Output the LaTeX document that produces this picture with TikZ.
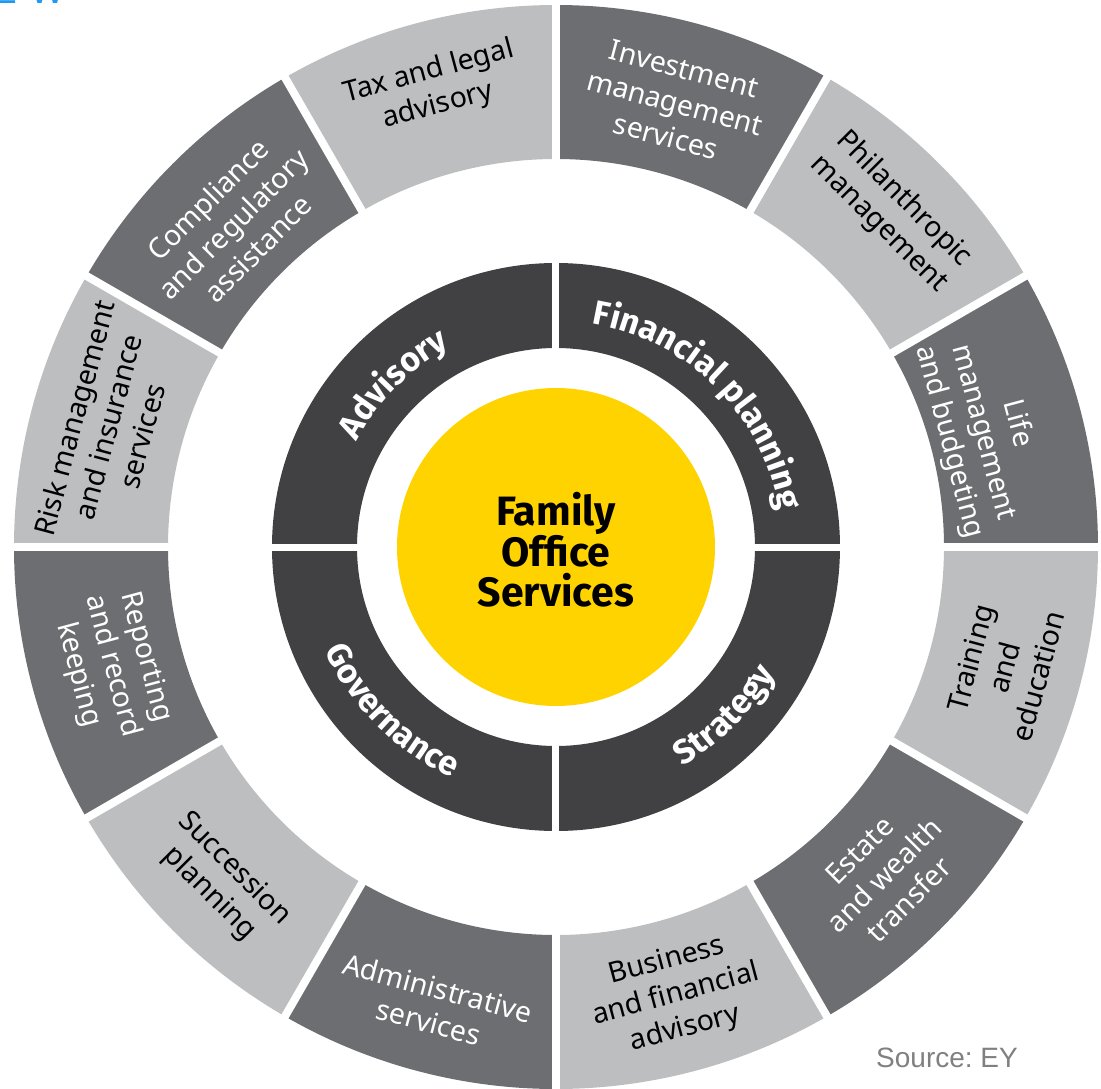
\documentclass[tikz,border=0pt]{standalone}
\usepackage{fontspec}
\setmainfont{Noto Sans}
\newfontfamily\innerfont{Fira Sans}
\newfontfamily\arialfont{Liberation Sans}
\usetikzlibrary{decorations.text}
\definecolor{seglight}{HTML}{BDBEC0}
\definecolor{segdark}{HTML}{6D6E71}
\definecolor{ringdark}{HTML}{414042}
\definecolor{eyyellow}{HTML}{FFD300}
\definecolor{srcgray}{HTML}{808080}
\definecolor{titleblue}{HTML}{1E9BF0}
\frenchspacing
\begin{document}
\begin{tikzpicture}[
  seglabel/.style={align=center, inner sep=0pt, font=\fontsize{28.5}{35}\selectfont},
  onlight/.style={seglabel, text=black},
  ondark/.style={seglabel, text=white},
  arctext/.style={decorate, decoration={text along path, text align=center,
      text={|\innerfont\bfseries\fontsize{34}{34}\selectfont\color{white}|#1}}},
  centertext/.style={align=center, inner sep=0pt, text=black,
      font=\innerfont\bfseries\fontsize{41}{40}\selectfont},
  sourcetext/.style={anchor=base west, inner sep=0pt, text=srcgray,
      font=\arialfont\fontsize{28}{28}\selectfont},
  titletext/.style={anchor=base west, inner sep=0pt, text=titleblue,
      font=\arialfont\fontsize{37}{37}\selectfont}
]
\useasboundingbox (-556pt,-541pt) rectangle (545pt,547pt);
% outer ring sectors
\foreach \a in {0,60,...,300} {
  \fill[segdark] (\a:388pt) arc[start angle=\a, end angle=\a+30, radius=388pt]
    -- ({\a+30}:542pt) arc[start angle=\a+30, end angle=\a, radius=542pt] -- cycle;
}
\foreach \a in {30,90,...,330} {
  \fill[seglight] (\a:388pt) arc[start angle=\a, end angle=\a+30, radius=388pt]
    -- ({\a+30}:542pt) arc[start angle=\a+30, end angle=\a, radius=542pt] -- cycle;
}
\foreach \a in {0,30,...,330} \draw[white, line width=8pt] (\a:370pt) -- (\a:560pt);
% inner dark ring
\fill[ringdark, even odd rule] (0,0) circle[radius=284pt] (0,0) circle[radius=199pt];
\foreach \a in {0,90,180,270} \draw[white, line width=7pt] (\a:190pt) -- (\a:295pt);
% yellow core
\fill[eyyellow] (0,0) circle[radius=159pt];
\node[centertext] (core) at (0pt,-3pt) {Family\\Office\\Services};
% ring labels
\path[arctext=Advisory] (180:226pt) arc[start angle=180, end angle=90, radius=226pt];
\path[arctext=Financial planning] (92:226pt) arc[start angle=92, end angle=-2, radius=226pt];
\path[arctext=Strategy] (-90:253pt) arc[start angle=-90, end angle=0, radius=253pt];
\path[arctext=Governance] (180:253pt) arc[start angle=180, end angle=270, radius=253pt];
% outer labels
\node[onlight, rotate=15] (tax) at (105:474pt) {Tax and legal\\advisory};
\node[ondark, rotate=-15] (invest) at (75:460pt) {Investment\\management\\services};
\node[onlight, rotate=-45] (phil) at (45:474pt) {Philanthropic\\management};
\node[ondark, rotate=-75] (life) at (15:442pt) {Life\\management\\and budgeting};
\node[onlight, rotate=75] (train) at (-15:464pt) {Training\\and\\education};
\node[ondark, rotate=45] (estate) at (-45:464pt) {Estate\\and wealth\\transfer};
\node[onlight, rotate=15] (business) at (-75:464pt) {Business\\and financial\\advisory};
\node[ondark, rotate=-15] (admin) at (-105:474pt) {Administrative\\services};
\node[onlight, rotate=-45] (succ) at (-135:473pt) {Succession\\planning};
\node[ondark, rotate=-75] (report) at (-165:460pt) {Reporting\\and record\\keeping};
\node[onlight, rotate=75] (risk) at (165:464pt) {Risk management\\and insurance\\services};
\node[ondark, rotate=45] (compl) at (135:457pt) {Compliance\\and regulatory\\assistance};
% source and clipped title
\node[sourcetext] (source) at (320pt,-520pt) {Source: EY};
\begin{scope}
  \clip (-556pt,-541pt) rectangle (545pt,547pt);
  \node[titletext] (title) at (-564pt,543pt) {E\kern13pt W};
\end{scope}
\end{tikzpicture}
\end{document}
